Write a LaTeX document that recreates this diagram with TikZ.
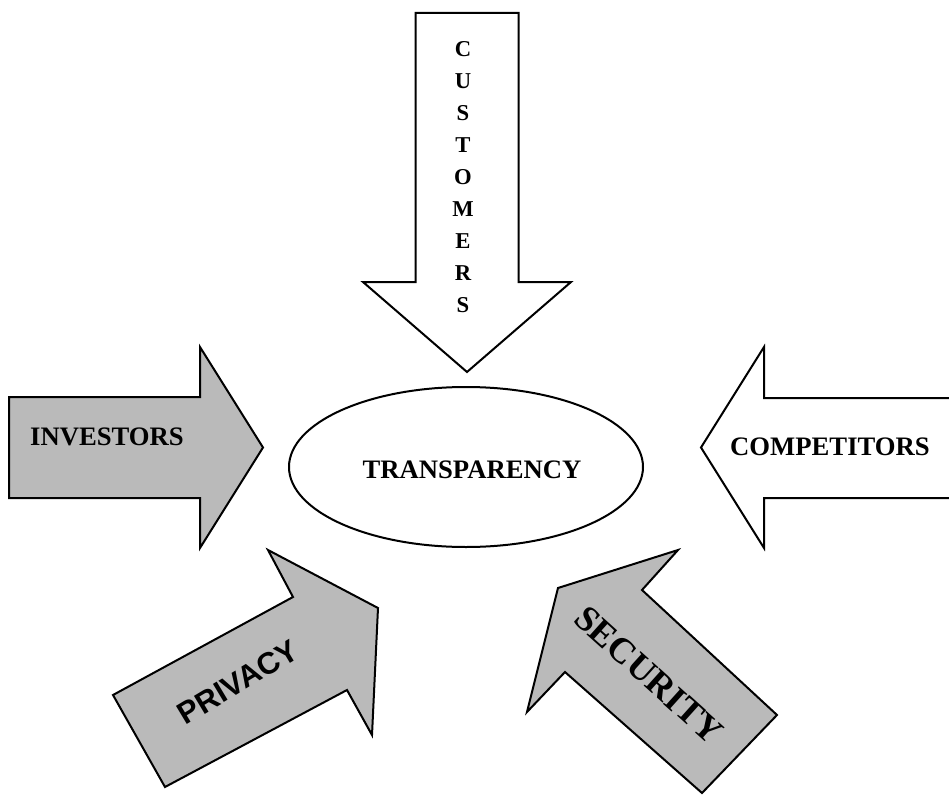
\documentclass[tikz,border=0pt]{standalone}
\usepackage{fontspec}
\setmainfont{Liberation Serif}
\newfontfamily\sansbold{Liberation Sans}[BoldFont={Liberation Sans Bold}]
\definecolor{arrowgray}{RGB}{186,186,186}
\begin{document}
\begin{tikzpicture}[x=0.75pt,y=-0.75pt,
  arrowshape/.style={draw=black,line width=1.5pt,line join=miter},
  grayarrow/.style={arrowshape,fill=arrowgray},
  whitearrow/.style={arrowshape,fill=white},
  lbl/.style={font=\bfseries\fontsize{20pt}{23pt}\selectfont,inner sep=0pt},
  letter/.style={font=\bfseries\fontsize{17pt}{19pt}\selectfont,inner sep=0pt}]
\clip (0,0) rectangle (949,795);
\fill[white] (0,0) rectangle (949,795);
% customers (down)
\draw[whitearrow] (415.5,13) -- (518.5,13) -- (518.5,282) -- (571,282) -- (467,372) -- (363,282) -- (415.5,282) -- cycle;
% investors (right)
\draw[grayarrow] (9,397) -- (200,397) -- (200,347) -- (263,447.5) -- (200,548) -- (200,498) -- (9,498) -- cycle;
% competitors (left)
\draw[whitearrow] (975,398) -- (764,398) -- (764,347) -- (701,447.5) -- (764,548) -- (764,498) -- (975,498) -- cycle;
% privacy (up-right)
\draw[grayarrow] (113,695) -- (293,597) -- (268,550) -- (378,608) -- (372,735) -- (347,690) -- (165,787) -- cycle;
% security (up-left)
\draw[grayarrow] (558,588) -- (678,550) -- (642,590) -- (777,715) -- (702,793) -- (565,672) -- (527,712) -- cycle;
% ellipse
\draw[line width=1.5pt] (466,467) ellipse [x radius=177, y radius=80];
\node[lbl] (transparency) at (472,470) {TRANSPARENCY};
\node[lbl] (investors) at (107,437) {INVESTORS};
\node[lbl] (competitors) at (830,447) {COMPETITORS};
\node[inner sep=0pt,rotate=31,font=\sansbold\bfseries\fontsize{23pt}{26pt}\selectfont] (privacy) at (238,682) {PRIVACY};
\node[inner sep=0pt,rotate=-42,font=\bfseries\fontsize{27pt}{30pt}\selectfont] (security) at (649,675) {SECURITY};
\foreach \l [count=\i from 0] in {C,U,S,T,O,M,E,R,S}{
  \node[letter] (c\i) at (463,{49+32*\i}) {\l};
}
\end{tikzpicture}
\end{document}
